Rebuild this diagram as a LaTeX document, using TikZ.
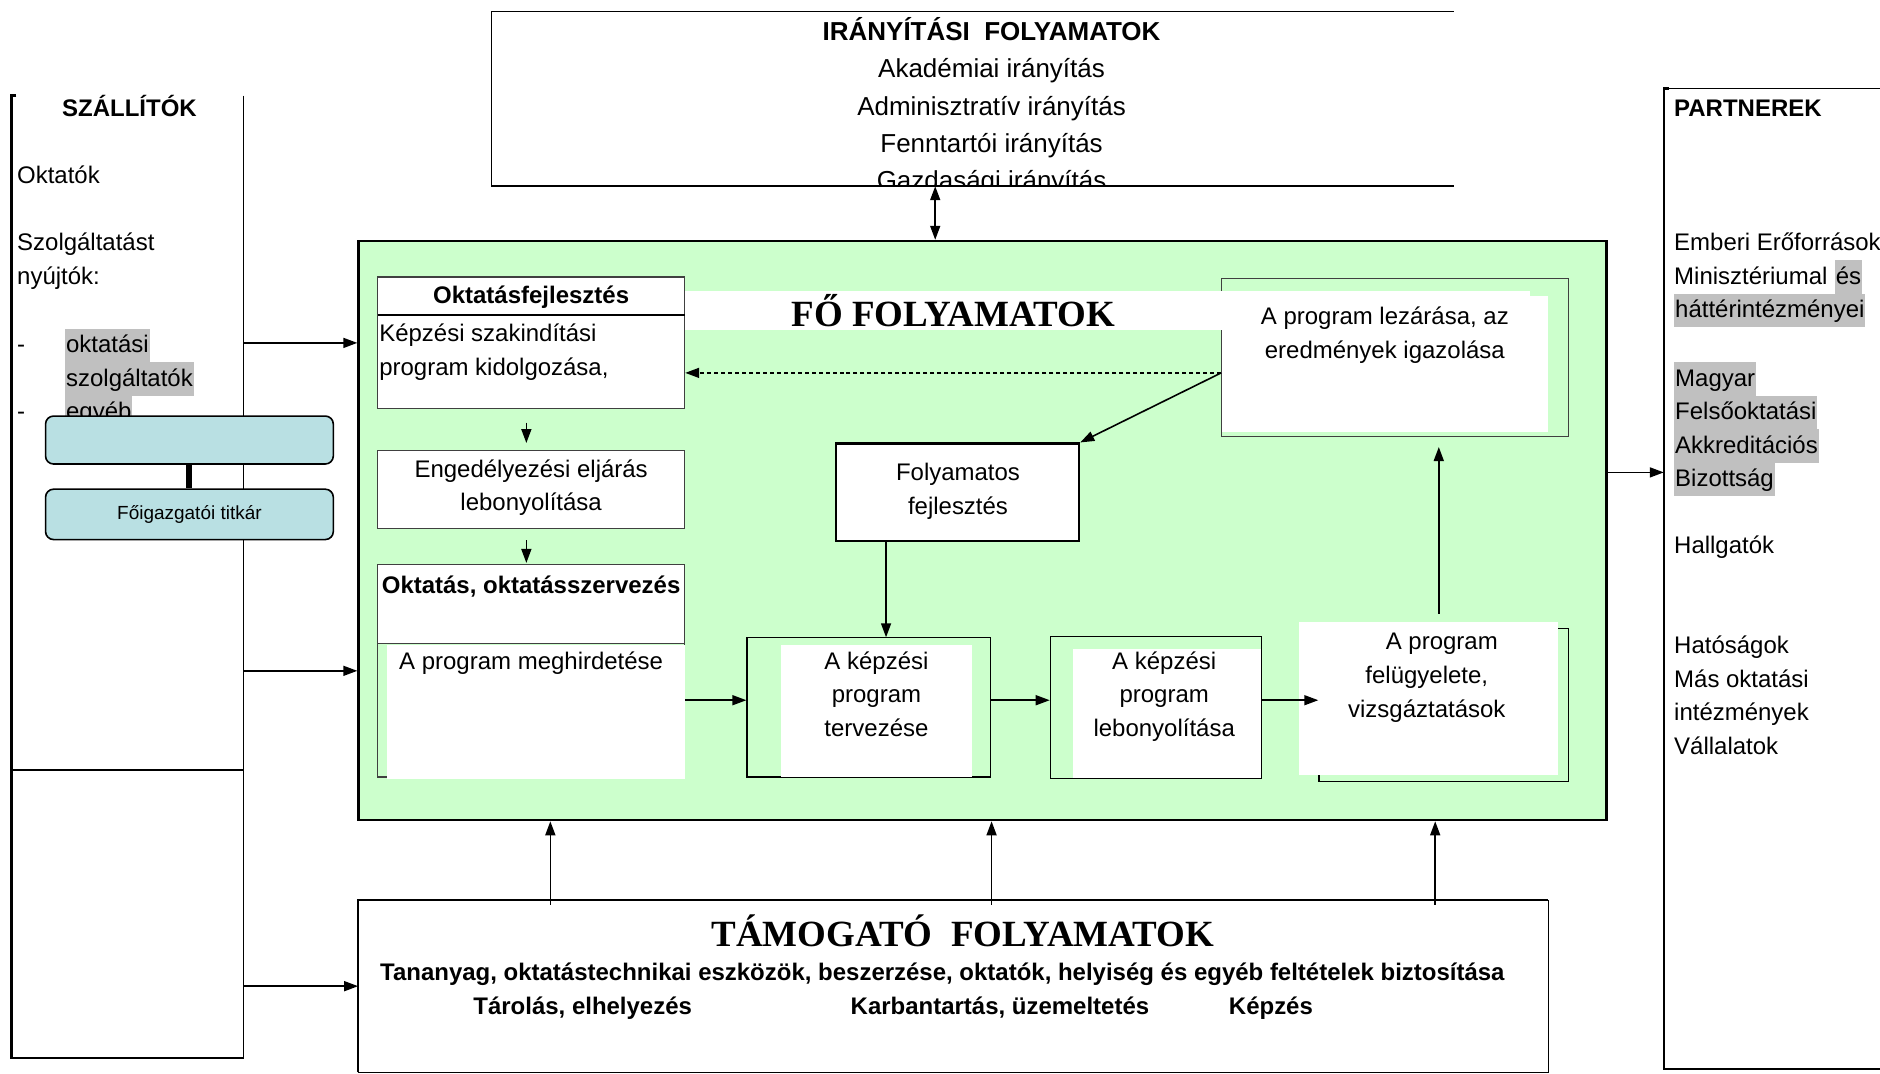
\documentclass[tikz,border=0pt]{standalone}
\usepackage{fontspec}
\setmainfont{Liberation Sans}
\newfontfamily\timesfont{Liberation Serif}
\usetikzlibrary{arrows.meta,fit}
\definecolor{foGreen}{HTML}{CCFFCC}
\definecolor{kekBox}{HTML}{B9E0E3}
\definecolor{jelolo}{HTML}{C0C0C0}
\newcommand{\txtsize}{\fontsize{12}{16.8}\selectfont}
\newcommand{\iransize}{\fontsize{13}{18.6}\selectfont}
\newcommand{\cimsize}{\fontsize{18.5}{22}\selectfont}

\begin{document}
\begin{tikzpicture}[x=0.6pt,y=0.6pt,yscale=-1,
  arr/.style={-{Triangle[length=7pt,width=5pt]}, line width=0.8pt},
  darr/.style={{Triangle[length=7pt,width=5pt]}-{Triangle[length=7pt,width=5pt]}, line width=0.8pt},
  keret/.style={inner sep=0pt},
  vekony/.style={draw=black!75, line width=0.6pt, inner sep=0pt},
  txt/.style={inner sep=0pt, font=\txtsize, align=center, anchor=base},
  ltxt/.style={inner sep=0pt, font=\txtsize, align=left, anchor=base west},
  hl/.style={fill=jelolo, inner xsep=0.5pt, inner ysep=0pt, text height=12pt, text depth=4.8pt, font=\txtsize, anchor=base west},
  cim/.style={inner sep=0pt, font=\timesfont\bfseries\cimsize, anchor=base}]
\useasboundingbox (0,0) rectangle (1568,895);

% helper coordinates for connector positions
\coordinate (c642) at (0,642);
\coordinate (c780) at (780,0);
\coordinate (c739) at (739,0);
\coordinate (c584) at (0,584);
\coordinate (c311) at (0,311);
\coordinate (c394) at (0,394);
\coordinate (c1200) at (1200,512);

%Shape: SZALLITOK
\node[keret, fit={(10,80) (203,882)}] (szall) {};
\draw[line width=1.2pt] (szall.north west) ++(4,0) -- (szall.north west) -- (szall.south west) -- (szall.south east);
\draw[line width=0.6pt] (szall.north east) -- (szall.south east);
\draw[line width=1pt] (szall.west |- c642) -- (szall.east |- c642);

% Text Node (base = last line)
\node[txt, font=\txtsize\bfseries] (szallcim) at (108,97) {SZÁLLÍTÓK};
\node[ltxt] (oktatok) at (14,153) {Oktatók};
\node[ltxt] (szolg) at (14,237) {Szolgáltatást\\nyújtók:};
\node[ltxt] (dash1) at (14,294) {-};
\node[ltxt] (dash2) at (14,350) {-};
\node[hl] (oktszolg) at (54,294) {oktatási\ };
\node[hl] (szolgt) at (54,322) {szolgáltatók};
\node[hl] (egyeb) at (54,350) {egyéb};

%Shape: blue boxes
\node[draw, fill=kekBox, rounded corners=4pt, line width=0.8pt, inner sep=0pt, fit={(38,347) (278,387)}] (kek1) {};
\node[draw, fill=kekBox, rounded corners=4pt, line width=0.8pt, inner sep=0pt, fit={(38,408) (278,450)}] (kek2) {};
\draw[line width=3pt] (kek1.south) -- (kek2.north);
\node[inner sep=0pt, font=\fontsize{9.5}{11}\selectfont] (titkar) at (kek2.center) {Főigazgatói titkár};

%Shape: IRANYITASI
\node[keret, fit={(410,10) (1212,155)}] (iranyitas) {};
\draw[line width=0.6pt] (iranyitas.north east) -- (iranyitas.north west) -- (iranyitas.south west);
\begin{scope}
\clip (iranyitas.north west) rectangle (iranyitas.south east);
\node[txt, font=\iransize] (irantxt) at (827,158) {\textbf{IRÁNYÍTÁSI\ \ FOLYAMATOK}\\Akadémiai irányítás\\Adminisztratív irányítás\\Fenntartói irányítás\\Gazdasági irányítás};
\end{scope}
\draw[line width=1.2pt] (iranyitas.south west) -- (iranyitas.south east);

%Shape: FO FOLYAMATOK
\node[draw, line width=1.2pt, fill=foGreen, inner sep=0pt, fit={(299,201) (1340,684)}] (fo) {};
\draw[darr] (iranyitas.south -| c780) -- (fo.north -| c780);

% Oktatasfejlesztes
\node[vekony, fill=white, fit={(315,231) (571,341)}] (fejl) {};
\draw[line width=1pt] (315,263) -- (571,263);
\node[txt, font=\txtsize\bfseries] (fejlcim) at (443,253) {Oktatásfejlesztés};
\node[ltxt] (fejltxt) at (316,313) {Képzési szakindítási\\program kidolgozása,};

% A program lezarasa
\node[vekony, fit={(1019,232) (1308,364)}] (lezar) {};
\fill[white] (571,243) rectangle (1276,275);
\fill[white] (1019,247) rectangle (1291,360);
\node[cim] (focim) at (795,272) {FŐ FOLYAMATOK};
\node[txt] (lezartxt) at (1155,299) {A program lezárása, az\\eredmények igazolása};

% Engedelyezes
\node[vekony, fill=white, fit={(315,376) (571,441)}] (enged) {};
\node[txt] (engedtxt) at (443,426) {Engedélyezési eljárás\\lebonyolítása};

% Oktatas, oktatasszervezes
\fill[white] (315,471) rectangle (571,537);
\node[vekony, fit={(315,471) (571,648)}] (oktatas) {};
\draw[black!75, line width=0.6pt] (315,537) -- (571,537);
\fill[white] (323,538) rectangle (571,650);
\node[txt, font=\txtsize\bfseries] (oktcim) at (443,495) {Oktatás, oktatásszervezés};
\node[txt] (meghird) at (443,558) {A program meghirdetése};

% Folyamatos fejlesztes
\node[draw, line width=1.2pt, fill=white, inner sep=0pt, fit={(697,370) (900,451)}] (folyam) {};
\node[txt] (folyamtxt) at (799,429) {Folyamatos\\fejlesztés};

% kepzesi program boxes
\node[vekony, draw=black, fit={(623,532) (826,648)}] (tervez) {};
\fill[white] (651,538) rectangle (811,648);
\node[txt] (tervtxt) at (731,614) {A képzési\\program\\tervezése};

\node[vekony, draw=black, fit={(876,531) (1052,649)}] (lebony) {};
\fill[white] (895,541) rectangle (1052,649);
\node[txt] (lebtxt) at (971,614) {A képzési\\program\\lebonyolítása};

\node[vekony, draw=black, fit={(1100,524) (1308,652)}] (felugy) {};
\fill[white] (1083,519) rectangle (1299,646);
\node[txt] (feltxt) at (1190,598) {\hspace*{15pt}A program\\felügyelete,\\vizsgáztatások};

% arrows inside
\draw[arr] ([xshift=-2.4pt,yshift=6.6pt]fejl.south) -- ([xshift=-2.4pt,yshift=-3.6pt]enged.north);
\draw[arr] ([xshift=-2.4pt,yshift=5.4pt]enged.south) -- ([xshift=-2.4pt,yshift=-0.6pt]oktatas.north);
\draw[arr, dash pattern=on 2pt off 1.5pt] (lezar.west |- c311) -- (fejl.east |- c311);
\draw[arr] (lezar.west |- c311) -- (folyam.north east);
\draw[arr] (folyam.south -| c739) -- (tervez.north -| c739);
\draw[arr] (oktatas.east |- c584) -- (tervez.west |- c584);
\draw[arr] (tervez.east |- c584) -- (lebony.west |- c584);
\draw[arr] (lebony.east |- c584) -- (felugy.west |- c584);
\draw[arr, shorten >=5pt] (c1200) -- (lezar.south -| c1200);

%Shape: TAMOGATO
\node[keret, fit={(299,751) (1291,894)}] (tamogato) {};
\draw[line width=1.2pt] (tamogato.south west) -- (tamogato.north west) -- (tamogato.north east);
\draw[line width=0.6pt] (tamogato.north east) -- (tamogato.south east) -- (tamogato.south west);
\node[cim] (tamcim) at (803,789) {TÁMOGATÓ\ \ FOLYAMATOK};
\node[txt, font=\txtsize\bfseries] (tamtxt) at (786,818) {Tananyag, oktatástechnikai eszközök, beszerzése, oktatók, helyiség és egyéb feltételek biztosítása};
\node[txt, font=\txtsize\bfseries] (tarolas) at (486,846) {Tárolás, elhelyezés};
\node[txt, font=\txtsize\bfseries] (karban) at (834,846) {Karbantartás, üzemeltetés};
\node[txt, font=\txtsize\bfseries] (kepzes) at (1060,846) {Képzés};

\foreach \xx/\nm in {459/a,827/b,1197/c}{
  \coordinate (fel\nm) at (\xx,0);
  \draw[arr] ([yshift=2.4pt]tamogato.north -| fel\nm) -- (fo.south -| fel\nm);
}

% arrows from SZALLITOK
\draw[arr] (szall.east |- fejl.center) -- (fo.west |- fejl.center);
\draw[arr] (szall.east |- oktatas.center) -- (fo.west |- oktatas.center);
\draw[arr] (szall.east |- tamogato.west) -- (tamogato.west);

%Shape: PARTNEREK
\node[keret, fit={(1388,74) (1568,891)}] (partner) {};
\draw[line width=0.6pt] (partner.north west) -- (partner.north east);
\draw[line width=1.2pt] (partner.north west) ++(4,0) -- (partner.north west) -- (partner.south west) -- (partner.south east);
\draw[arr] (fo.east |- c394) -- (partner.west |- c394);

% Text Node
\node[ltxt, font=\txtsize\bfseries] (partcim) at (1396,97) {PARTNEREK};
\node[ltxt] (emberi) at (1396,209) {Emberi Erőforrások};
\node[ltxt] (minis) at (1396,237) {Minisztériumal\ };
\node[hl] (es) at (minis.base east) {és\ };
\node[hl] (hatter) at (1396,265) {háttérintézményei};
\node[hl] (magyar) at (1396,322) {Magyar\ };
\node[hl] (felso) at (1396,350) {Felsőoktatási\ };
\node[hl] (akkr) at (1396,378) {Akkreditációs\ };
\node[hl] (biz) at (1396,406) {Bizottság};
\node[ltxt] (hallg) at (1396,462) {Hallgatók};
\node[ltxt] (hatos) at (1396,629) {Hatóságok\\Más oktatási\\intézmények\\Vállalatok};

\end{tikzpicture}
\end{document}
